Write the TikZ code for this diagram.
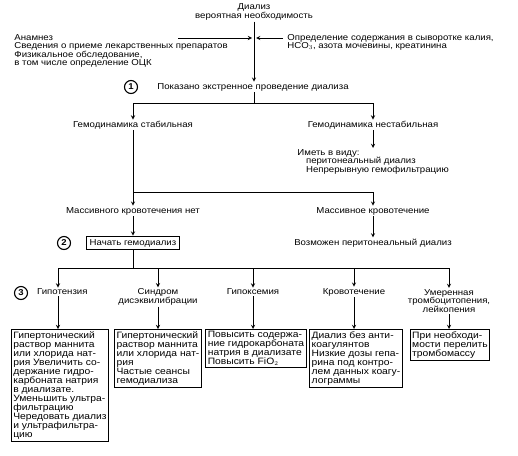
\documentclass[tikz,border=0pt]{standalone}
\usepackage{fontspec}
\setmainfont[FakeStretch=1.12]{Liberation Sans}
\usetikzlibrary{arrows}
\begin{document}
\begin{tikzpicture}[>=stealth, x=1pt, y=-1pt, line width=0.9pt,
    every node/.style={font=\fontsize{8.6}{8.6}\selectfont, inner sep=1pt},
    txt/.style={align=center},
    lefttxt/.style={align=left, anchor=west},
    numc/.style={circle, draw, line width=1.1pt, inner sep=0.5pt, minimum size=13pt, font=\fontsize{8.5}{8.5}\selectfont\bfseries},
    actbox/.style={draw, line width=1.1pt, align=left, anchor=north, inner sep=2pt, font=\fontsize{9.2}{9}\selectfont}]
  \useasboundingbox (0,0) rectangle (518,455);
  % top of the scheme
  \node[txt] (dial) at (254,12) {Диализ\\вероятная необходимость};
  \node[lefttxt] (anam) at (13,51) {Анамнез\\Сведения о приеме лекарственных препаратов\\Физикальное обследование,\\в том числе определение ОЦК};
  \node[lefttxt] (lab) at (286,42.5) {Определение содержания в сыворотке калия,\\HCO$_3$, азота мочевины, креатинина};
  \coordinate (aL) at (178,38);
  \coordinate (aR) at (283,38);
  \draw[->] (aL) -- (252,38);
  \draw[->] (aR) -- (256,38);
  \node[numc] (c1) at (131,87) {1};
  \node[lefttxt] (urg) at (156,87) {Показано экстренное проведение диализа};
  \draw[->] (dial) -- (dial |- urg.north);
  % haemodynamics
  \coordinate (s1) at (254,103);
  \node[txt] (stab) at (133,125) {Гемодинамика стабильная};
  \node[txt] (unst) at (373,125) {Гемодинамика нестабильная};
  \draw (dial |- urg.south) -- (s1);
  \draw[->] (s1) -| (stab);
  \draw[->] (s1) -| (unst);
  \node[lefttxt, anchor=north west] (cons) at (296,148) {Иметь в виду:\\\quad перитонеальный диализ\\\quad Непрерывную гемофильтрацию};
  \draw[->] (unst) -- (unst |- cons.north);
  % bleeding
  \coordinate (s2) at (133,192);
  \node[txt] (nobl) at (133,211) {Массивного кровотечения нет};
  \node[txt] (bleed) at (373,211) {Массивное кровотечение};
  \draw[->] (stab) -- (nobl);
  \draw[->] (s2) -| (bleed);
  \node[draw, line width=1.1pt, inner sep=3pt] (hd) at (133,243) {Начать гемодиализ};
  \node[numc] (c2) at (64,243) {2};
  \node[txt] (pd) at (373,243) {Возможен перитонеальный диализ};
  \draw[->] (nobl) -- (hd);
  \draw[->] (bleed) -- (pd);
  % complications
  \coordinate (s3) at (133,268);
  \node[numc] (c3) at (21,293) {3};
  \node[txt] (hyp) at (58,292) {\quad Гипотензия};
  \node[txt] (dis) at (158,297) {Синдром\\дисэквилибрации};
  \node[txt] (hox) at (253,292) {Гипоксемия};
  \node[txt] (blc) at (354,292) {Кровотечение};
  \node[txt] (thr) at (449,301) {Умеренная\\тромбоцитопения,\\лейкопения};
  \draw (hd) -- (s3);
  \foreach \n in {hyp,dis,hox,blc,thr}
    \draw[->] (s3) -| (\n);
  \node[actbox] (b1) at (60,329) {Гипертонический\\раствор маннита\\или хлорида нат-\\рия Увеличить со-\\держание гидро-\\карбоната натрия\\в диализате.\\Уменьшить ультра-\\фильтрацию\\Чередовать диализ\\и ультрафильтра-\\цию};
  \node[actbox] (b2) at (158,329) {Гипертонический\\раствор маннита\\или хлорида нат-\\рия\\Частые сеансы\\гемодиализа};
  \node[actbox] (b3) at (256,329) {Повысить содержа-\\ние гидрокарбоната\\натрия в диализате\\Повысить FiO$_2$};
  \node[actbox] (b4) at (356,329) {Диализ без анти-\\коагулянтов\\Низкие дозы гепа-\\рина под контро-\\лем данных коагу-\\лограммы};
  \node[actbox] (b5) at (450,329) {При необходи-\\мости перелить\\тромбомассу};
  \draw[->] (hyp) -- (hyp |- b1.north);
  \draw[->] (dis) -- (dis |- b2.north);
  \draw[->] (hox) -- (hox |- b3.north);
  \draw[->] (blc) -- (blc |- b4.north);
  \draw[->] (thr) -- (thr |- b5.north);
\end{tikzpicture}
\end{document}
